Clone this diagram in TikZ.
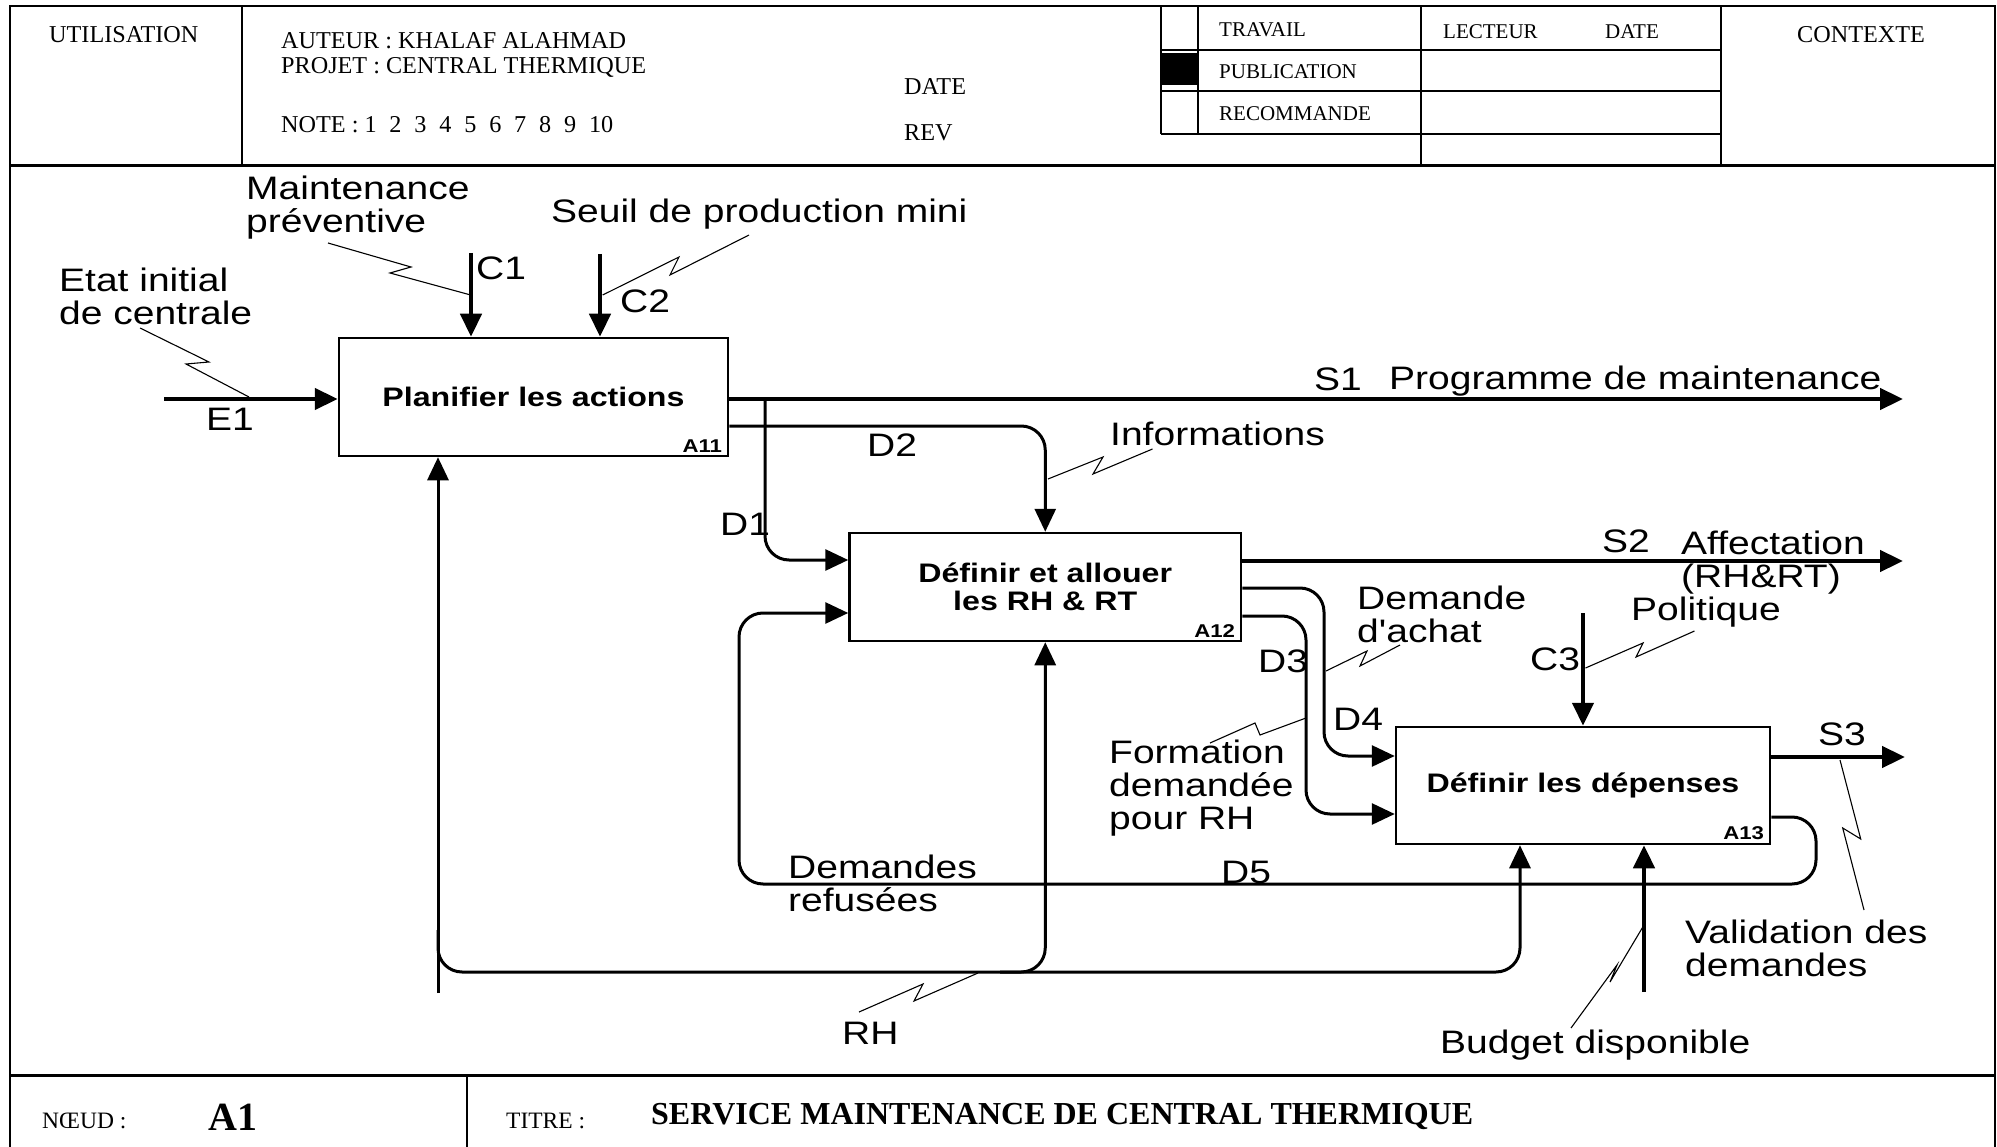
\documentclass[tikz,border=0pt]{standalone}
\usepackage{fontspec}
\setmainfont{Liberation Serif}
\newfontfamily\diagsans[FakeStretch=1.2]{Liberation Sans}
\usetikzlibrary{arrows.meta}
\newcommand\lblfont{\diagsans\fontsize{32.5}{33}\selectfont}
\newcommand\boxfont{\diagsans\bfseries\fontsize{26.8}{28}\selectfont}
\newcommand\idfont{\diagsans\bfseries\fontsize{18.5}{20}\selectfont}
\newcommand\hdrbig{\fontsize{24.2}{26}\selectfont}
\newcommand\hdrsmall{\fontsize{21}{24}\selectfont}
\newcommand\notegap{\hspace{6.8pt}}
\begin{document}
\begin{tikzpicture}[x=1pt,y=-1pt,
  frameline/.style={line width=2pt},
  act/.style={draw, line width=2.5pt, inner sep=0pt, font=\boxfont, align=center},
  idlab/.style={font=\idfont, anchor=south east, inner sep=0pt},
  heavy/.style={line width=4.5pt, -{Triangle[length=23pt,width=21pt]}},
  med/.style={line width=3pt, -{Triangle[length=23pt,width=21pt]}, rounded corners=24pt},
  squig/.style={line width=1.1pt},
  lbl/.style={font=\lblfont, anchor=west, inner sep=0pt, align=left},
  hd/.style={font=\hdrbig, anchor=west, inner sep=0pt},
  hds/.style={font=\hdrsmall, anchor=west, inner sep=0pt}]
\useasboundingbox (0,0) rectangle (1997,1147);

% ---------- frame ----------
\draw[frameline] (10,1150) -- (10,6) -- (1995,6) -- (1995,1150);
\draw[line width=3pt] (10,166) -- (1995,166);
\draw[line width=3pt] (10,1075) -- (1995,1075);
\draw[frameline] (242,6) -- (242,166);
\draw[frameline] (1161,6) -- (1161,134);
\draw[frameline] (1198,6) -- (1198,134);
\draw[frameline] (1421,6) -- (1421,166);
\draw[frameline] (1721,6) -- (1721,166);
\draw[frameline] (1161,50) -- (1721,50);
\draw[frameline] (1161,91) -- (1721,91);
\draw[frameline] (1161,134) -- (1721,134);
\fill (1162,53) rectangle (1197,85);
\draw[frameline] (467,1075) -- (467,1150);

% ---------- header texts ----------
\node[hd] (hUtil) at (49,35) {UTILISATION};
\node[hd] (hAut) at (281,41) {AUTEUR : KHALAF ALAHMAD};
\node[hd] (hProj) at (281,67) {PROJET : CENTRAL THERMIQUE};
\node[hd] (hNote) at (281,125) {NOTE : 1\notegap{} 2\notegap{} 3\notegap{} 4\notegap{} 5\notegap{} 6\notegap{} 7\notegap{} 8\notegap{} 9\notegap{} 10};
\node[hd] (hDate) at (904,87) {DATE};
\node[hd] (hRev) at (904,133) {REV};
\node[hds] (hTrav) at (1219,30) {TRAVAIL};
\node[hds] (hPub) at (1219,72) {PUBLICATION};
\node[hds] (hRec) at (1219,114) {RECOMMANDE};
\node[hds] (hLect) at (1443,32) {LECTEUR};
\node[hds] (hDate2) at (1605,32) {DATE};
\node[font=\hdrbig, inner sep=0pt] (hCtx) at (1861,35) {CONTEXTE};

% ---------- footer texts ----------
\node[font=\fontsize{23.5}{25}\selectfont, anchor=west, inner sep=0pt] (fNoeud) at (42,1121) {NŒUD :};
\node[font=\bfseries\fontsize{40}{44}\selectfont, anchor=west, inner sep=0pt] (fA1) at (208,1117) {A1};
\node[font=\fontsize{23.5}{25}\selectfont, anchor=west, inner sep=0pt] (fTitre) at (506,1121) {TITRE :};
\node[font=\bfseries\fontsize{32}{34}\selectfont, anchor=west, inner sep=0pt] (fTitle) at (651,1116) {SERVICE MAINTENANCE DE CENTRAL THERMIQUE};

% ---------- activity boxes ----------
\node[act, minimum width=389pt, minimum height=118pt] (a11) at (533.5,397) {Planifier les actions};
\node[act, minimum width=391.5pt, minimum height=108pt] (a12) at (1045.25,587) {Définir et allouer\\les RH \& RT};
\node[act, minimum width=374pt, minimum height=117pt] (a13) at (1583,785.5) {Définir les dépenses};
\node[idlab] (id11) at ([xshift=-7pt,yshift=5pt]a11.south east) {A11};
\node[idlab] (id12) at ([xshift=-7pt,yshift=5pt]a12.south east) {A12};
\node[idlab] (id13) at ([xshift=-7pt,yshift=5pt]a13.south east) {A13};

% ---------- connectors ----------
\coordinate (e1s) at (164,399);
\draw[heavy] (e1s) -- (e1s -| a11.west);
\coordinate (c1s) at (471,253);
\draw[heavy] (c1s) -- (c1s |- a11.north);
\coordinate (c2s) at (600,254);
\draw[heavy] (c2s) -- (c2s |- a11.north);
\coordinate (s1e) at (1903,399);
\draw[heavy] (s1e -| a11.east) -- (s1e);
\coordinate (d1s) at (765,399);
\coordinate (d1c) at (765,560);
\draw[med] (d1s) -- (d1c) -- (d1c -| a12.west);
\coordinate (d2s) at (728,426);
\draw[med] (d2s -| a11.east) -| (a12.north);
\coordinate (s2e) at (1903,561);
\draw[heavy] (s2e -| a12.east) -- (s2e);
\coordinate (d4a) at (1324,588);
\coordinate (d4b) at (1324,756);
\draw[med] (d4a -| a12.east) -- (d4a) -- (d4b) -- (d4b -| a13.west);
\coordinate (d3a) at (1306,616);
\coordinate (d3b) at (1306,814);
\draw[med] (d3a -| a12.east) -- (d3a) -- (d3b) -- (d3b -| a13.west);
\coordinate (c3s) at (1583,613);
\draw[heavy] (c3s) -- (a13.north);
\coordinate (s3e) at (1905,757);
\draw[heavy] (s3e -| a13.east) -- (s3e);
\coordinate (d5a) at (1816,817);
\coordinate (d5b) at (1816,884);
\coordinate (d5c) at (739,884);
\coordinate (d5d) at (739,613);
\draw[med] (d5a -| a13.east) -- (d5a) -- (d5b) -- (d5c) -- (d5d) -- (d5d -| a12.west);
\coordinate (rh0) at (438,993);
\draw[med] (rh0) -- (rh0 |- a11.south);
\coordinate (rhb) at (438,930);
\coordinate (rhk) at (438,972);
\coordinate (rhm) at (1520,972);
\draw[med] (rhb) -- (rhk) -- (rhm) -- (rhm |- a13.south);
\coordinate (rh2) at (1000,972);
\draw[med] (rh2) -- (rh2 -| a12.south) -- (a12.south);
\coordinate (bud) at (1644,992);
\draw[heavy] (bud) -- (bud |- a13.south);

% ---------- squiggles ----------
\draw[squig] (249,397) -- (186,364) -- (209,362) -- (140,328);
\draw[squig] (470.7,295) -- (390,273) -- (411,267) -- (328,243);
\draw[squig] (602.7,295) -- (679,257) -- (670,275) -- (749,235);
\draw[squig] (1048,479) -- (1103,457) -- (1093,474) -- (1152.5,449);
\draw[squig] (1326,671) -- (1367,651) -- (1360,666) -- (1400,645);
\draw[squig] (1306,718) -- (1260,735) -- (1255,723) -- (1210,743);
\draw[squig] (1585.5,668) -- (1643,643) -- (1636,657) -- (1694.5,631);
\draw[squig] (1840,760) -- (1860.7,839) -- (1842.7,828) -- (1864,910);
\draw[squig] (1644,925) -- (1610,982) -- (1617,965) -- (1571,1028);
\draw[squig] (978,973) -- (914,1001) -- (923,984) -- (859,1012);

% ---------- labels ----------
\node[lbl] (lEtat) at (59,296) {Etat initial\\de centrale};
\node[lbl] (lE1) at (206,419) {E1};
\node[lbl] (lMaint) at (246,207.5) {Maintenance\\préventive};
\node[lbl] (lC1) at (476,268) {C1};
\node[lbl] (lSeuil) at (551,214) {Seuil de production mini};
\node[lbl] (lC2) at (620,301) {C2};
\node[lbl] (lS1) at (1314,379) {S1};
\node[lbl] (lProg) at (1389,381) {Programme de maintenance};
\node[lbl] (lD2) at (867,445) {D2};
\node[lbl] (lInfo) at (1110,434) {Informations};
\node[lbl] (lD1) at (720,524) {D1};
\node[lbl] (lS2) at (1602,541) {S2};
\node[lbl] (lAff) at (1681,563) {Affectation\\(RH\&RT)};
\node[lbl] (lDach) at (1357,614) {Demande\\d'achat};
\node[lbl] (lPol) at (1631,612) {Politique};
\node[lbl] (lC3) at (1530,659) {C3};
\node[lbl] (lD3) at (1258,661) {D3};
\node[lbl] (lD4) at (1333,719) {D4};
\node[lbl] (lForm) at (1109,788) {Formation\\demandée\\pour RH};
\node[lbl] (lS3) at (1818,734) {S3};
\node[lbl] (lRef) at (788,883) {Demandes\\refusées};
\node[lbl] (lD5) at (1221,872) {D5};
\node[lbl] (lRH) at (842,1033) {RH};
\node[lbl] (lBud) at (1440,1045) {Budget disponible};
\node[lbl] (lVal) at (1685,948) {Validation des\\demandes};
\end{tikzpicture}
\end{document}
